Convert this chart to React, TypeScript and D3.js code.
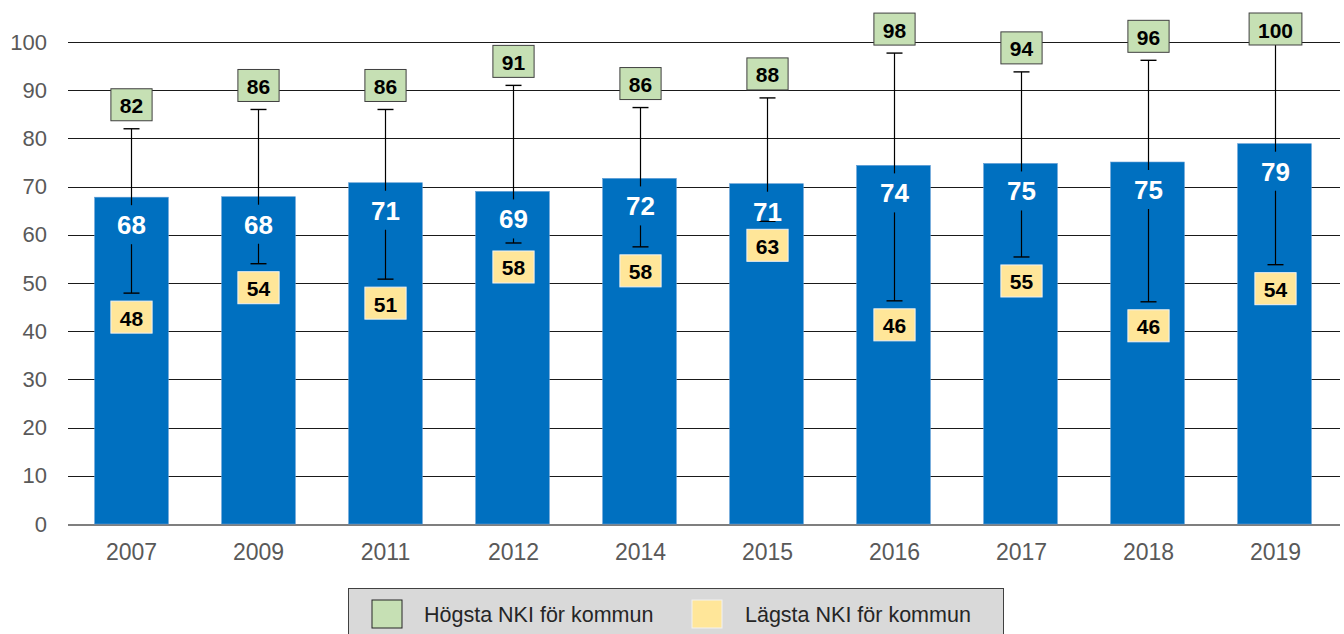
import React from "react";
import * as d3 from "d3";

const years = ["2007", "2009", "2011", "2012", "2014", "2015", "2016", "2017", "2018", "2019"];
const average = [67.8, 67.9, 70.8, 69.0, 71.7, 70.6, 74.4, 74.8, 75.1, 78.9];
const highest = [82, 86, 86, 91, 86.4, 88.4, 97.7, 93.8, 96.2, 100];
const lowest = [47.9, 54, 50.8, 58.3, 57.5, 62.8, 46.3, 55.4, 46.1, 53.8];
const yTicks = [0, 10, 20, 30, 40, 50, 60, 70, 80, 90, 100];
const legendItems = ["Högsta NKI för kommun", "Lägsta NKI för kommun"];

const W = 1344;
const H = 634;
const FONT = "'Liberation Sans', Arial, Helvetica, sans-serif";

export default function App() {
  const x = d3.scaleBand<string>().domain(years).range([68, 1338]).paddingInner(0.42).paddingOuter(0.21);
  const y = d3.scaleLinear().domain([0, 100]).range([524, 42]);
  const bw = x.bandwidth();
  const boxH = 32;
  const boxW = (v: number) => String(Math.round(v)).length * 11.6 + 18;

  return (
    <svg width={W} height={H} style={{ position: "absolute", left: 0, top: 0, background: "#fff" }} fontFamily={FONT}>
      {yTicks.map((t) => (
        <g key={t}>
          <line
            x1={68}
            x2={1340}
            y1={Math.round(y(t)) + 0.5}
            y2={Math.round(y(t)) + 0.5}
            stroke={t === 0 ? "#7f7f7f" : "#1a1a1a"}
            strokeWidth={t === 0 ? 2 : 1}
            shapeRendering="crispEdges"
          />
          <text x={47} y={y(t)} textAnchor="end" dominantBaseline="central" fontSize={22} fill="#595959">
            {t}
          </text>
        </g>
      ))}
      {years.map((yr, i) => {
        const cx = Math.round((x(yr) as number) + bw / 2) + 0.5;
        const top = y(average[i]);
        const labelC = top + 28;
        const hiY = y(highest[i]);
        const loY = y(lowest[i]);
        const segs: [number, number][] = [];
        if (labelC - 20 > hiY) segs.push([hiY, labelC - 20]);
        if (loY > labelC + 19) segs.push([labelC + 19, loY]);
        const hw = boxW(highest[i]);
        const lw = boxW(lowest[i]);
        const hiTop = Math.max(13, hiY - 8 - boxH);
        const loTop = loY + 8;
        return (
          <g key={yr}>
            <rect x={x(yr)} y={top} width={bw} height={y(0) - top} fill="#0070C0" stroke="#5b9bd5" strokeWidth={0.6} />
            {segs.map((s, k) => (
              <line key={k} x1={cx} x2={cx} y1={s[0]} y2={s[1]} stroke="#000" strokeWidth={1.2} />
            ))}
            <line x1={cx - 8} x2={cx + 8} y1={hiY} y2={hiY} stroke="#000" strokeWidth={1.4} />
            <line x1={cx - 8} x2={cx + 8} y1={loY} y2={loY} stroke="#000" strokeWidth={1.4} />
            <text x={cx} y={labelC} textAnchor="middle" dominantBaseline="central" fontSize={26} fontWeight="bold" fill="#fff">
              {Math.round(average[i])}
            </text>
            <rect x={cx - hw / 2} y={hiTop} width={hw} height={boxH} fill="#c6e0b4" stroke="#404040" strokeWidth={1} />
            <text x={cx} y={hiTop + boxH / 2 + 1} textAnchor="middle" dominantBaseline="central" fontSize={21} fontWeight="bold" fill="#000">
              {Math.round(highest[i])}
            </text>
            <rect x={cx - lw / 2} y={loTop} width={lw} height={boxH} fill="#ffe699" stroke="#f2f2f2" strokeWidth={1} />
            <text x={cx} y={loTop + boxH / 2 + 1} textAnchor="middle" dominantBaseline="central" fontSize={21} fontWeight="bold" fill="#000">
              {Math.round(lowest[i])}
            </text>
            <text x={cx} y={552} textAnchor="middle" dominantBaseline="central" fontSize={23} fill="#595959">
              {yr}
            </text>
          </g>
        );
      })}
      <g>
        <rect x={348.5} y={588.5} width={655} height={50} fill="#d9d9d9" stroke="#404040" strokeWidth={1} />
        <rect x={372} y={600} width={30} height={28} fill="#c6e0b4" stroke="#262626" strokeWidth={1} />
        <text x={424} y={615} dominantBaseline="central" fontSize={21.5} fill="#262626">
          {legendItems[0]}
        </text>
        <rect x={692} y={600} width={30} height={28} fill="#ffe699" stroke="#f2f2f2" strokeWidth={1} />
        <text x={745} y={615} dominantBaseline="central" fontSize={21.5} fill="#262626">
          {legendItems[1]}
        </text>
      </g>
    </svg>
  );
}
